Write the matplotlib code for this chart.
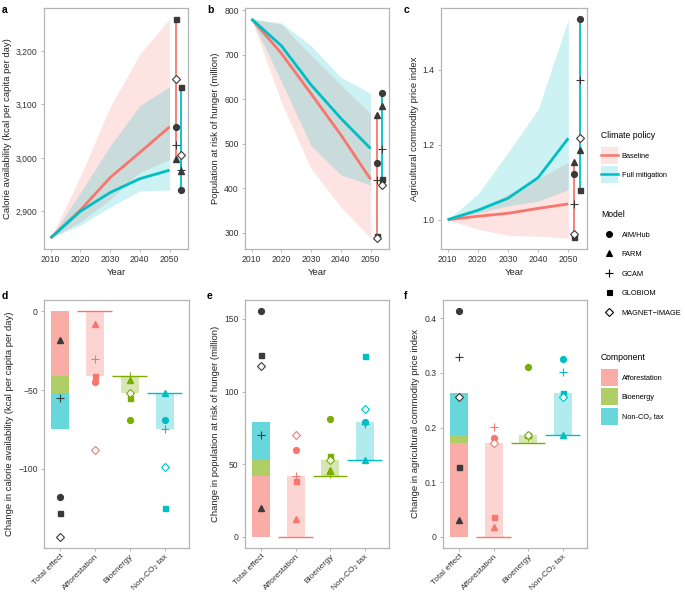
import numpy as np
import matplotlib
matplotlib.use("Agg")
import matplotlib.pyplot as plt
from matplotlib.lines import Line2D
from matplotlib.patches import Patch, Rectangle
from matplotlib.legend_handler import HandlerPatch
from matplotlib.ticker import FuncFormatter

plt.rcParams['font.family'] = ['Liberation Sans', 'DejaVu Sans']

# time series (median across models, min/max band)
years = [2010, 2020, 2030, 2040, 2050]

calorie_base = [2850, 2902, 2963, 3010, 3058]
calorie_base_lo = [2850, 2880, 2922, 2973, 2997]
calorie_base_hi = [2850, 2965, 3095, 3194, 3260]
calorie_mitig = [2850, 2900, 2935, 2961, 2977]
calorie_mitig_lo = [2850, 2874, 2908, 2938, 2940]
calorie_mitig_hi = [2850, 2935, 3022, 3098, 3133]

hunger_base = [780, 703, 612, 520, 420]
hunger_base_lo = [780, 593, 444, 358, 288]
hunger_base_hi = [780, 768, 698, 632, 567]
hunger_mitig = [780, 720, 632, 557, 489]
hunger_mitig_lo = [780, 640, 495, 430, 407]
hunger_mitig_hi = [780, 771, 720, 649, 613]

price_base = [1.0, 1.009, 1.017, 1.030, 1.042]
price_base_lo = [1.0, 0.975, 0.958, 0.956, 0.951]
price_base_hi = [1.0, 1.028, 1.068, 1.108, 1.154]
price_mitig = [1.0, 1.025, 1.057, 1.112, 1.217]
price_mitig_lo = [1.0, 1.018, 1.037, 1.049, 1.080]
price_mitig_hi = [1.0, 1.068, 1.179, 1.294, 1.533]

# 2050 results per model
models = ["AIM/Hub", "FARM", "GCAM", "GLOBIOM", "MAGNET\u2212IMAGE"]
calorie_2050_base = [3058, 2997, 3025, 3260, 3147]
calorie_2050_mitig = [2940, 2975, 2977, 3133, 3005]
hunger_2050_base = [457, 565, 418, 293, 288]
hunger_2050_mitig = [613, 585, 487, 420, 407]
price_2050_base = [1.121, 1.155, 1.042, 0.953, 0.962]
price_2050_mitig = [1.535, 1.185, 1.373, 1.080, 1.219]

# decomposition of the mitigation effect
components = ["Afforestation", "Bioenergy", "Non-CO\u2082 tax"]
categories = ["Total effect", "Afforestation", "Bioenergy", "Non-CO\u2082 tax"]

calorie_total = [-118, -18, -55, -128, -143]
calorie_affor = [-45, -8, -30, -41, -88]
calorie_bioen = [-69, -43.5, -41, -55, -52]
calorie_nonco2 = [-69, -52, -74.6, -125, -99]

hunger_total = [155.3, 19.8, 69.8, 125.4, 117.6]
hunger_affor = [60, 12, 41.8, 38.6, 70.3]
hunger_bioen = [81.3, 45.9, 43, 55.8, 52.6]
hunger_nonco2 = [79, 52.6, 77.4, 124.5, 88.2]

price_total = [0.413, 0.0305, 0.330, 0.128, 0.2565]
price_affor = [0.180, 0.0171, 0.2015, 0.0366, 0.172]
price_bioen = [0.310, 0.187, 0.183, 0.186, 0.1856]
price_nonco2 = [0.3255, 0.1856, 0.302, 0.2638, 0.2565]

RED = "#F8766D"
CYAN = "#00BFC4"
GREEN = "#7CAE00"
comp_colors = [RED, GREEN, CYAN]
DARK = "#3A3A3A"
markers = ["o", "^", "+", "s", "D"]
msizes = [4.2, 4.2, 6, 3.6, 4.2]

W, H = 685, 594
fig = plt.figure(figsize=(W / 100, H / 100), dpi=100)


def add_ax(l, t, r, b):
    ax = fig.add_axes([l / W, 1 - b / H, (r - l) / W, (b - t) / H])
    for s in ax.spines.values():
        s.set_color("#B5B5B5")
        s.set_linewidth(0.9)
    ax.tick_params(colors="#B5B5B5", labelcolor="#333333", labelsize=6.2,
                   length=2.5, width=0.7, pad=2)
    return ax


def model_points(ax, x, vals, color, open_fill="white"):
    for v, m, ms in zip(vals, markers, msizes):
        if m == "D":
            ax.plot(x, v, marker=m, ms=ms, mfc=open_fill, mec=color, mew=0.8, ls="none", zorder=5)
        elif m == "+":
            ax.plot(x, v, marker=m, ms=ms, color=color, mew=0.8, ls="none", zorder=5)
        else:
            ax.plot(x, v, marker=m, ms=ms, color=color, ls="none", zorder=5)


def time_panel(ax, base, blo, bhi, mit, mlo, mhi, b2050, m2050, ylabel):
    ax.fill_between(years, blo, bhi, color=RED, alpha=0.2, lw=0)
    ax.fill_between(years, mlo, mhi, color=CYAN, alpha=0.2, lw=0)
    ax.plot(years, base, color=RED, lw=2.0, solid_capstyle="butt")
    ax.plot(years, mit, color=CYAN, lw=2.0, solid_capstyle="butt")
    xb, xm = years[-1] + 2, years[-1] + 4
    ax.vlines(xb, min(b2050), max(b2050), color=RED, lw=1.3)
    ax.vlines(xm, min(m2050), max(m2050), color=CYAN, lw=1.3)
    model_points(ax, xb, b2050, DARK)
    model_points(ax, xm, m2050, DARK)
    ax.set_xlim(2007.8, 2056.2)
    ax.set_xticks([2010, 2020, 2030, 2040, 2050])
    allv = list(blo) + list(bhi) + list(mlo) + list(mhi) + list(b2050) + list(m2050)
    lo, hi = min(allv), max(allv)
    pad = (hi - lo) * 0.05
    ax.set_ylim(lo - pad, hi + pad)
    ax.set_xlabel("Year", fontsize=6.8, color="#222222", labelpad=3)
    ax.set_ylabel(ylabel, fontsize=6.8, color="#222222", labelpad=3)


def decomp_panel(ax, total, affor, bioen, nonco2, ylabel):
    meds = [np.median(affor), np.median(bioen), np.median(nonco2)]
    starts = [0, meds[0], meds[1]]
    bw = 0.52
    for i in range(3):
        # stacked total effect
        ax.bar(0, meds[i] - starts[i], bottom=starts[i], width=bw,
               color=comp_colors[i], alpha=0.6, lw=0)
        # waterfall steps
        ax.bar(i + 1, meds[i] - starts[i], bottom=starts[i], width=bw,
               color=comp_colors[i], alpha=0.3, lw=0)
        ax.hlines(starts[i], i + 0.5, i + 1.5, color=comp_colors[i], lw=1.0)
    model_points(ax, 0, total, DARK)
    for i, vals in enumerate([affor, bioen, nonco2]):
        model_points(ax, i + 1, vals, comp_colors[i])
    allv = [0] + list(total) + list(affor) + list(bioen) + list(nonco2)
    lo, hi = min(allv), max(allv)
    pad = (hi - lo) * 0.05
    ax.set_ylim(lo - pad, hi + pad)
    ax.set_xlim(-0.46, 3.7)
    ax.set_xticks(range(4))
    ax.set_xticklabels(categories, rotation=45, ha="right", rotation_mode="anchor", fontsize=6.0)
    ax.tick_params(axis="x", pad=1)
    ax.set_ylabel(ylabel, fontsize=6.8, color="#222222", labelpad=3)


ax_a = add_ax(44, 8, 188, 249)
time_panel(ax_a, calorie_base, calorie_base_lo, calorie_base_hi, calorie_mitig,
           calorie_mitig_lo, calorie_mitig_hi, calorie_2050_base, calorie_2050_mitig,
           "Calorie availability (kcal per capita per day)")
ax_a.set_yticks([2900, 3000, 3100, 3200])
ax_a.yaxis.set_major_formatter(FuncFormatter(lambda v, p: f"{v:,.0f}"))

ax_b = add_ax(245, 8, 389, 249)
time_panel(ax_b, hunger_base, hunger_base_lo, hunger_base_hi, hunger_mitig,
           hunger_mitig_lo, hunger_mitig_hi, hunger_2050_base, hunger_2050_mitig,
           "Population at risk of hunger (million)")
ax_b.set_yticks([300, 400, 500, 600, 700, 800])

ax_c = add_ax(441, 8, 587, 249)
time_panel(ax_c, price_base, price_base_lo, price_base_hi, price_mitig,
           price_mitig_lo, price_mitig_hi, price_2050_base, price_2050_mitig,
           "Agricultural commodity price index")
ax_c.set_yticks([1.0, 1.2, 1.4])
ax_c.set_yticklabels(["1.0", "1.2", "1.4"])

ax_d = add_ax(44, 300, 189, 548)
decomp_panel(ax_d, calorie_total, calorie_affor, calorie_bioen, calorie_nonco2,
             "Change in calorie availability (kcal per capita per day)")
ax_d.set_yticks([-100, -50, 0])

ax_e = add_ax(245, 300, 389, 548)
decomp_panel(ax_e, hunger_total, hunger_affor, hunger_bioen, hunger_nonco2,
             "Change in population at risk of hunger (million)")
ax_e.set_yticks([0, 50, 100, 150])

ax_f = add_ax(443, 300, 587, 548)
decomp_panel(ax_f, price_total, price_affor, price_bioen, price_nonco2,
             "Change in agricultural commodity price index")
ax_f.set_yticks([0, 0.1, 0.2, 0.3, 0.4])
ax_f.set_yticklabels(["0", "0.1", "0.2", "0.3", "0.4"])

# panel letters
for lab, x, y in [("a", 2, 10), ("b", 207, 10), ("c", 404, 10),
                  ("d", 2, 296), ("e", 207, 296), ("f", 404, 296)]:
    fig.text(x / W, 1 - y / H, lab, fontsize=7.5, fontweight="bold", va="center", ha="left")


# legends: square 12pt keys centred on each row
KEY = 12.2


def square_key(legend, orig_handle, xdescent, ydescent, width, height, fontsize):
    cy = -ydescent + height / 2
    return Rectangle((-xdescent, cy - KEY / 2), KEY, KEY)


hmap = {Patch: HandlerPatch(patch_func=square_key)}
leg_kw = dict(loc="upper left", frameon=False, fontsize=5.3, title_fontsize=6.2,
              handlelength=2.3, handleheight=1.0, labelspacing=1.6,
              handletextpad=0.5, borderpad=0, borderaxespad=0, alignment="left",
              handler_map=hmap)

policy_handles = [(Patch(facecolor=RED, alpha=0.2, lw=0), Line2D([], [], color=RED, lw=1.8)),
                  (Patch(facecolor=CYAN, alpha=0.2, lw=0), Line2D([], [], color=CYAN, lw=1.8))]
leg1 = fig.legend(policy_handles, ["Baseline", "Full mitigation"], title="Climate policy",
                  bbox_to_anchor=(601 / W, 1 - 131 / H), **leg_kw)

model_handles = []
for m, ms in zip(markers, msizes):
    if m == "D":
        model_handles.append(Line2D([], [], marker=m, ms=ms, mfc="white", mec="black", mew=0.8, ls="none"))
    else:
        model_handles.append(Line2D([], [], marker=m, ms=ms, color="black", mew=0.8, ls="none"))
leg2 = fig.legend(model_handles, models, title="Model",
                  bbox_to_anchor=(601 / W, 1 - 210 / H), **leg_kw)

comp_handles = [Patch(facecolor=c, alpha=0.6, lw=0) for c in comp_colors]
leg3 = fig.legend(comp_handles, components, title="Component",
                  bbox_to_anchor=(601 / W, 1 - 353 / H), **leg_kw)

fig.savefig("out.png", dpi=100)
